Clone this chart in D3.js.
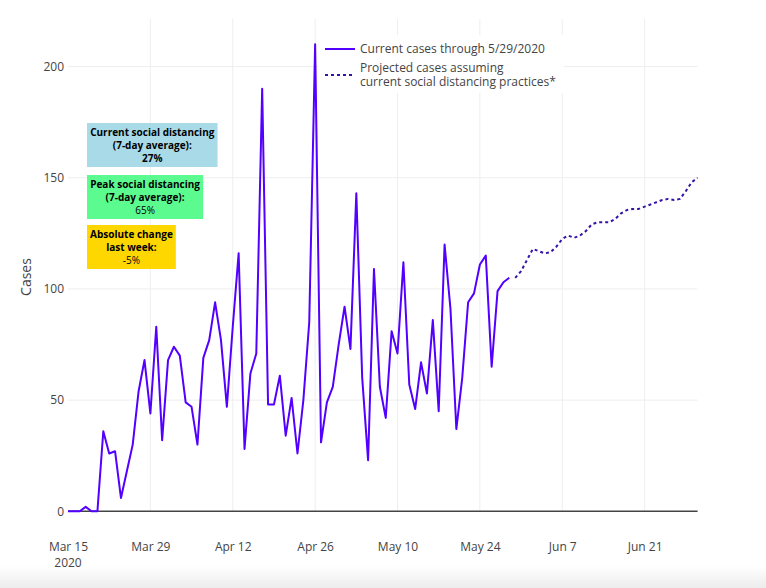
<!DOCTYPE html>
<html>
<head>
<meta charset="utf-8">
<script src="https://cdn.jsdelivr.net/npm/d3@7"></script>
<style>
    body { margin: 0; background: #fff; }
    text { font-family: "Open Sans", sans-serif; }
</style>
</head>
<body>
<svg id="chart" width="766" height="588"></svg>
<script>
// daily cases, first value is Mar 15 2020, last is May 29 2020
const currentStart = "2020-03-15";
const currentCases = [
    0, 0, 0, 2, 0, 0, 36, 26, 27, 6,
    18, 30, 54, 68, 44, 83, 32, 68, 74, 70,
    49, 47, 30, 69, 77, 94, 77, 47, 83, 116,
    28, 62, 71, 190, 48, 48, 61, 34, 51, 26,
    50, 85, 210, 31, 49, 56, 75, 92, 73, 143,
    60, 23, 109, 56, 42, 81, 71, 112, 57, 46,
    67, 53, 86, 45, 120, 91, 37, 60, 94, 98,
    111, 115, 65, 99, 103, 105
];

// projection, first value is May 30 2020, last is Jun 30 2020
const projectedStart = "2020-05-30";
const projectedCases = [
    105, 108, 113, 118, 117, 116, 116.5, 119, 122.5, 124,
    123, 124, 126, 129, 130, 130, 130, 131.5, 134, 135.5,
    136, 136, 137, 138, 139, 140, 140.5, 140, 140.5, 144,
    148, 150
];

const xTickDates = ["2020-03-15", "2020-03-29", "2020-04-12", "2020-04-26",
    "2020-05-10", "2020-05-24", "2020-06-07", "2020-06-21"];
const xTickLabels = ["Mar 15", "Mar 29", "Apr 12", "Apr 26", "May 10", "May 24", "Jun 7", "Jun 21"];
const yTicks = [0, 50, 100, 150, 200];

const legendLabels = [
    ["Current cases through 5/29/2020"],
    ["Projected cases assuming", "current social distancing practices*"]
];

const boxTitles = [
    ["Current social distancing", "(7-day average):"],
    ["Peak social distancing", "(7-day average):"],
    ["Absolute change", "last week:"]
];
const boxValues = ["27%", "65%", "-5%"];
const boxValueBold = [true, false, false];
const boxColors = ["#a8dae8", "#5cfb8f", "#ffd700"];

const width = 766, height = 588;
const margin = {top: 19, right: 68.4, bottom: 76.7, left: 68};
const solidColor = "#5200ff";
const dotColor = "#3612a8";
const textColor = "#444";

const parse = d3.timeParse("%Y-%m-%d");

// build the two series
let current = currentCases.map((v, i) => ({date: d3.timeDay.offset(parse(currentStart), i), value: v}));
let projected = projectedCases.map((v, i) => ({date: d3.timeDay.offset(parse(projectedStart), i), value: v}));

let svg = d3.select("#chart");

// grey fade at the very bottom of the page
let defs = svg.append("defs");
let grad = defs.append("linearGradient")
    .attr("id", "fade")
    .attr("x1", 0).attr("y1", 0).attr("x2", 0).attr("y2", 1);
grad.append("stop").attr("offset", 0).attr("stop-color", "#fff");
grad.append("stop").attr("offset", 1).attr("stop-color", "#ececec");
svg.append("rect")
    .attr("x", 0).attr("y", 566)
    .attr("width", width).attr("height", height - 566)
    .attr("fill", "url(#fade)");

let x = d3.scaleTime()
    .domain([parse(currentStart), projected[projected.length - 1].date])
    .range([margin.left, width - margin.right]);

let y = d3.scaleLinear()
    .domain([0, 221.4])
    .range([height - margin.bottom, margin.top]);

// grid
svg.append("g")
    .selectAll("line")
    .data(xTickDates.slice(1).map(parse))
    .enter()
    .append("line")
    .attr("x1", d => x(d)).attr("x2", d => x(d))
    .attr("y1", margin.top).attr("y2", height - margin.bottom)
    .attr("stroke", "#eee")
    .attr("stroke-width", 1);

svg.append("g")
    .selectAll("line")
    .data(yTicks.filter(d => d > 0))
    .enter()
    .append("line")
    .attr("x1", margin.left).attr("x2", width - margin.right)
    .attr("y1", d => y(d)).attr("y2", d => y(d))
    .attr("stroke", "#eee")
    .attr("stroke-width", 1);

// zero line
svg.append("line")
    .attr("x1", margin.left).attr("x2", width - margin.right)
    .attr("y1", y(0)).attr("y2", y(0))
    .attr("stroke", textColor)
    .attr("stroke-width", 1.5);

// axes, only the labels are kept
let xAxis = svg.append("g")
    .attr("transform", "translate(0," + (height - margin.bottom) + ")")
    .call(d3.axisBottom(x)
        .tickValues(xTickDates.map(parse))
        .tickSize(0)
        .tickPadding(0)
        .tickFormat((d, i) => xTickLabels[i]));
xAxis.select(".domain").remove();
xAxis.selectAll("text")
    .attr("y", 40)
    .attr("dy", null)
    .attr("fill", textColor)
    .style("font-size", "12px")
    .style("font-family", "'Open Sans', sans-serif");
xAxis.append("text")
    .attr("x", x(parse(xTickDates[0])))
    .attr("y", 56)
    .attr("text-anchor", "middle")
    .attr("fill", textColor)
    .style("font-size", "12px")
    .text("2020");

let yAxis = svg.append("g")
    .attr("transform", "translate(" + margin.left + ",0)")
    .call(d3.axisLeft(y).tickValues(yTicks).tickSize(0).tickPadding(4));
yAxis.select(".domain").remove();
yAxis.selectAll("text")
    .attr("fill", textColor)
    .style("font-size", "12px")
    .style("font-family", "'Open Sans', sans-serif");

svg.append("text")
    .attr("transform", "translate(31,277) rotate(-90)")
    .attr("text-anchor", "middle")
    .attr("fill", textColor)
    .style("font-size", "14px")
    .text("Cases");

// lines
let line = d3.line()
    .x(d => x(d.date))
    .y(d => y(d.value));

svg.append("path")
    .datum(current)
    .attr("d", line)
    .attr("fill", "none")
    .attr("stroke", solidColor)
    .attr("stroke-width", 2)
    .attr("stroke-linejoin", "round");

svg.append("path")
    .datum(projected)
    .attr("d", line)
    .attr("fill", "none")
    .attr("stroke", dotColor)
    .attr("stroke-width", 2)
    .attr("stroke-dasharray", "3,3")
    .attr("stroke-linejoin", "round");

// legend
let legend = svg.append("g").attr("transform", "translate(318,35)");
legend.append("rect")
    .attr("width", 246).attr("height", 58)
    .attr("fill", "#fff");
let legendRows = [{y: 14, color: solidColor, dash: null}, {y: 40, color: dotColor, dash: "3,3"}];
legendRows.forEach((r, i) => {
    legend.append("line")
        .attr("x1", 7).attr("x2", 37)
        .attr("y1", r.y).attr("y2", r.y)
        .attr("stroke", r.color)
        .attr("stroke-width", 2)
        .attr("stroke-dasharray", r.dash);
    let t = legend.append("text")
        .attr("x", 42)
        .attr("fill", textColor)
        .style("font-size", "12px");
    let n = legendLabels[i].length;
    legendLabels[i].forEach((s, j) => {
        t.append("tspan")
            .attr("x", 42)
            .attr("y", r.y + 4 + (j - (n - 1) / 2) * 13.3)
            .text(s);
    });
});

// annotation boxes on the left
let boxTops = [123, 175, 225];
boxTitles.forEach((lines, i) => {
    let g = svg.append("g");
    let rect = g.append("rect").attr("fill", boxColors[i]);
    let t = g.append("text")
        .attr("text-anchor", "middle")
        .attr("fill", "#000")
        .style("font-size", "10px");
    lines.forEach((s, j) => {
        t.append("tspan")
            .attr("x", 0)
            .attr("y", 13 + j * 13)
            .style("font-weight", "bold")
            .text(s);
    });
    t.append("tspan")
        .attr("x", 0)
        .attr("y", 13 + lines.length * 13)
        .style("font-weight", boxValueBold[i] ? "bold" : "normal")
        .text(boxValues[i]);
    let bb = t.node().getBBox();
    let w = bb.width + 6;
    rect.attr("x", -w / 2).attr("y", 0).attr("width", w).attr("height", 44);
    g.attr("transform", "translate(" + (87 + w / 2) + "," + boxTops[i] + ")");
});
</script>
</body>
</html>
